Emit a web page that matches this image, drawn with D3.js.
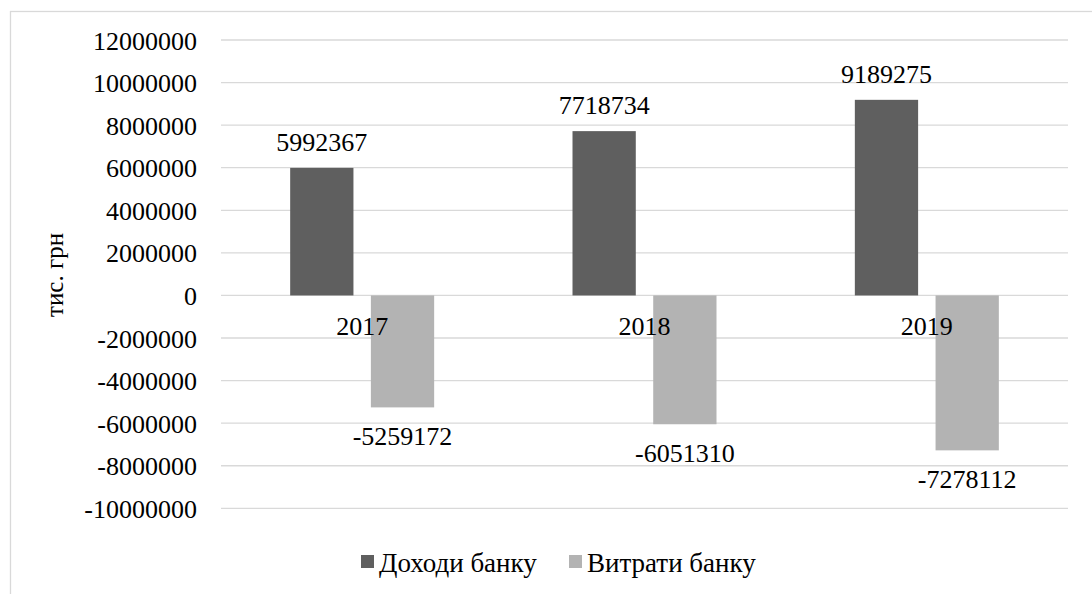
<!DOCTYPE html>
<html>
<head>
<meta charset="utf-8">
<script src="https://cdn.jsdelivr.net/npm/d3@7"></script>
<style>
  html, body { margin: 0; padding: 0; background: #fff; }
</style>
</head>
<body>
<svg id="chart" width="1092" height="594"></svg>
<script>
const years = ["2017", "2018", "2019"];
const seriesNames = ["Доходи банку", "Витрати банку"];
const income = [5992367, 7718734, 9189275];
const expenses = [-5259172, -6051310, -7278112];
const yTicks = [12000000, 10000000, 8000000, 6000000, 4000000, 2000000, 0, -2000000, -4000000, -6000000, -8000000, -10000000];
const colors = ["#5f5f5f", "#b3b3b3"];
const yTitle = "тис. грн";

const FONT = "'Liberation Serif', Tinos, 'Times New Roman', 'DejaVu Serif', serif";
const svg = d3.select("#chart").attr("font-family", FONT);
const fmt = v => String(v);

// outer chart border
svg.append("rect")
  .attr("x", 10.5).attr("y", 11.5)
  .attr("width", 1200).attr("height", 700)
  .attr("fill", "none").attr("stroke", "#d9d9d9").attr("stroke-width", 1.3);

const plot = { left: 221, right: 1068, top: 40, bottom: 508.3 };

const y = d3.scaleLinear().domain([-10000000, 12000000]).range([plot.bottom, plot.top]);
const x0 = d3.scaleBand().domain(years).range([plot.left, plot.right])
  .paddingInner(0.49).paddingOuter(0.245);
const x1 = d3.scaleBand().domain(seriesNames).range([0, x0.bandwidth()]).paddingInner(0.216);

// gridlines
svg.append("g").selectAll("line").data(yTicks).join("line")
  .attr("x1", plot.left).attr("x2", plot.right)
  .attr("y1", d => y(d)).attr("y2", d => y(d))
  .attr("stroke", "#d9d9d9").attr("stroke-width", 1.3);

// y tick labels
svg.append("g").selectAll("text").data(yTicks).join("text")
  .attr("x", 197).attr("y", d => y(d) + 9.5)
  .attr("text-anchor", "end")
  .attr("font-family", FONT)
  .attr("font-size", 26)
  .text(d => fmt(d));

// y axis title
svg.append("text")
  .attr("transform", `translate(63,275) rotate(-90)`)
  .attr("text-anchor", "middle")
  .attr("font-family", FONT)
  .attr("font-size", 25)
  .text(yTitle);

const data = years.map((yr, i) => ({ year: yr, values: [
  { name: seriesNames[0], v: income[i] },
  { name: seriesNames[1], v: expenses[i] }
]}));

const groups = svg.append("g").selectAll("g").data(data).join("g")
  .attr("transform", d => `translate(${x0(d.year)},0)`);

groups.selectAll("rect").data(d => d.values).join("rect")
  .attr("x", d => x1(d.name))
  .attr("width", x1.bandwidth())
  .attr("y", d => y(Math.max(0, d.v)))
  .attr("height", d => Math.abs(y(d.v) - y(0)))
  .attr("fill", (d, i) => colors[i]);

groups.selectAll("text.val").data(d => d.values).join("text")
  .attr("class", "val")
  .attr("x", d => x1(d.name) + x1.bandwidth() / 2)
  .attr("y", d => d.v >= 0 ? y(d.v) - 17 : y(d.v) + 37.5)
  .attr("text-anchor", "middle")
  .attr("font-family", FONT)
  .attr("font-size", 26)
  .text(d => fmt(d.v));

// category labels
svg.append("g").selectAll("text").data(years).join("text")
  .attr("x", d => x0(d) + x0.bandwidth() / 2)
  .attr("y", y(0) + 40)
  .attr("text-anchor", "middle")
  .attr("font-family", FONT)
  .attr("font-size", 26)
  .text(d => d);

// legend
const legendX = [361, 569];
const leg = svg.append("g").selectAll("g").data(seriesNames).join("g")
  .attr("transform", (d, i) => `translate(${legendX[i]},555)`);
leg.append("rect").attr("width", 13).attr("height", 13)
  .attr("fill", (d, i) => colors[i]);
leg.append("text").attr("x", 18).attr("y", 17)
  .attr("font-family", FONT)
  .attr("font-size", 27)
  .text(d => d);
</script>
</body>
</html>
